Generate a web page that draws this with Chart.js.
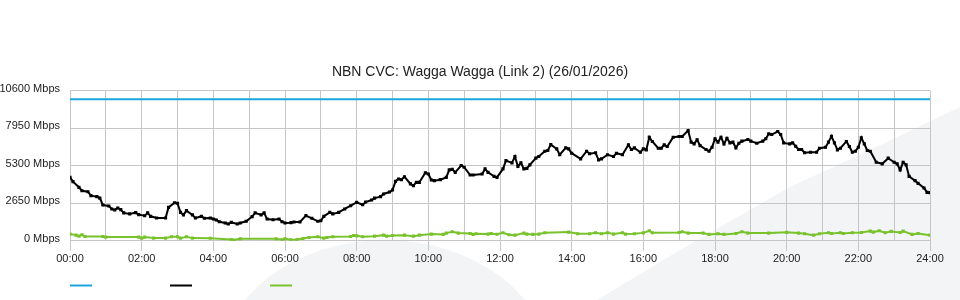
<!DOCTYPE html>
<html><head><meta charset="utf-8">
<script src="https://cdn.jsdelivr.net/npm/chart.js@4.4.1/dist/chart.umd.min.js"></script>
<style>html,body{margin:0;padding:0;background:#fff;}#wrap{width:960px;height:300px;}</style>
</head><body><div id="wrap"><canvas id="c" width="960" height="300"></canvas></div>
<script>
const chartTitle = 'NBN CVC: Wagga Wagga (Link 2) (26/01/2026)';
const yTicks = [0, 2650, 5300, 7950, 10600];
const xTickLabels = ['00:00','02:00','04:00','06:00','08:00','10:00','12:00','14:00','16:00','18:00','20:00','22:00','24:00'];

const capTimes = [0, 1440];
const capValues = [10000, 10000];

const dlTimes = [0,5,15,20,30,35,45,50,55,65,70,75,80,85,90,100,110,115,125,130,135,145,160,165,175,180,185,190,195,205,210,220,225,235,240,245,250,260,265,270,280,285,295,305,310,320,325,330,340,350,355,360,370,375,385,395,405,415,420,425,435,440,450,460,470,480,490,495,505,510,520,525,535,540,545,550,555,560,570,575,580,585,595,600,605,610,620,630,635,640,645,655,660,670,675,690,695,700,710,715,725,730,740,745,750,755,760,765,770,780,785,795,800,805,815,820,830,835,840,855,865,870,880,885,890,900,910,915,925,935,940,945,955,960,965,970,975,985,990,995,1000,1010,1020,1025,1035,1040,1045,1050,1055,1065,1070,1075,1080,1085,1090,1095,1100,1105,1110,1115,1120,1125,1135,1140,1150,1160,1165,1170,1175,1185,1190,1195,1205,1210,1215,1220,1225,1230,1240,1250,1255,1265,1270,1275,1280,1285,1290,1300,1305,1310,1315,1320,1325,1330,1335,1340,1350,1360,1370,1380,1385,1390,1395,1400,1405,1415,1420,1430,1435,1440];
const dlValues = [4480,4180,3780,3540,3470,3190,3120,3020,2530,2460,2250,2180,2320,2200,1970,1900,1990,1850,1770,1970,1730,1610,1610,2360,2690,2650,2010,1830,2130,1830,1610,1730,1590,1610,1540,1470,1350,1260,1190,1300,1190,1260,1380,1710,1970,1830,1970,1540,1490,1540,1350,1260,1280,1330,1330,1780,1590,1380,1420,1730,2010,1900,2010,2250,2480,2720,2550,2740,2880,3020,3120,3310,3450,3590,4200,4370,4320,4530,4020,3900,4130,4130,4810,4720,4300,4250,4320,4480,5010,5050,4840,5320,5200,4650,4650,4720,5080,4840,4550,4480,5080,5670,5510,5960,5250,5510,5080,5120,5370,5840,5960,6330,6380,6800,6500,6080,6570,6500,6190,5790,6330,6150,6220,5720,5790,6080,5960,6190,6080,6780,6450,6570,6260,6500,6430,7320,7020,6540,6540,6780,6660,7320,7370,7370,7790,6970,6850,7140,6730,6450,6330,6610,7210,6970,7320,6850,7250,6920,6970,6570,6890,7040,7160,7040,6890,7040,7210,7560,7510,7720,7510,6920,6850,6920,6680,6450,6450,6220,6260,6260,6540,6610,6970,7390,6920,6430,6540,7020,6660,6260,6330,6610,7280,6850,6380,6330,5550,5440,5840,5550,5440,5010,5550,5370,4550,4250,4060,3730,3420,3400];

const ulTimes = [0,10,15,20,25,55,60,115,120,125,140,160,170,180,185,195,205,235,270,275,285,345,355,360,370,380,390,400,415,425,430,440,470,475,480,490,510,525,530,540,560,575,585,605,625,630,640,650,670,675,680,700,705,715,725,735,745,760,765,775,785,795,835,850,870,880,890,900,910,925,930,945,960,970,975,1020,1025,1035,1060,1070,1085,1095,1115,1125,1135,1170,1200,1220,1230,1245,1255,1270,1275,1290,1295,1310,1325,1340,1345,1355,1365,1375,1390,1395,1410,1420,1440];
const ulValues = [475,400,330,425,305,305,260,260,190,260,190,190,285,285,190,285,190,180,95,50,140,140,70,140,70,95,165,235,285,190,235,285,305,375,350,285,330,400,330,375,400,330,400,475,450,545,640,545,520,450,500,475,520,460,565,425,400,545,475,450,475,565,615,500,500,565,500,565,475,565,475,500,560,710,565,590,640,545,545,450,500,450,520,640,545,545,600,545,500,400,500,565,520,565,520,565,590,685,615,710,565,665,590,685,450,520,400];

const zip = (t, v) => t.map((x, i) => ({x: x, y: v[i]}));
const FONT = 'Liberation Sans, Arial, sans-serif';
const GRID = '#c6c6c6';

const bgPlugin = {
  id: 'bg',
  beforeDraw(chart) {
    const ctx = chart.ctx;
    ctx.save();
    ctx.fillStyle = '#ffffff';
    ctx.fillRect(0, 0, chart.width, chart.height);
    ctx.fillStyle = '#f3f4f6';
    ctx.beginPath();
    ctx.ellipse(385, 370, 166, 130, 0, 0, Math.PI * 2);
    ctx.fill();
    ctx.beginPath();
    ctx.moveTo(597, 300);
    ctx.lineTo(680, 250);
    ctx.lineTo(790, 187);
    ctx.lineTo(870, 150);
    ctx.lineTo(960, 107);
    ctx.lineTo(960, 300);
    ctx.closePath();
    ctx.fill();
    ctx.restore();
  }
};

const legendPlugin = {
  id: 'lineLegend',
  afterDraw(chart) {
    const ctx = chart.ctx;
    ctx.save();
    chart.data.datasets.forEach((ds, i) => {
      const x0 = 70 + i * 100;
      ctx.strokeStyle = ds.borderColor;
      ctx.lineWidth = 2;
      ctx.beginPath();
      ctx.moveTo(x0, 285.5);
      ctx.lineTo(x0 + 22, 285.5);
      ctx.stroke();
    });
    ctx.restore();
  }
};

new Chart(document.getElementById('c'), {
  type: 'line',
  data: {
    datasets: [
      {data: zip(capTimes, capValues), borderColor: '#1ca6e0', borderWidth: 2, pointRadius: 0, tension: 0},
      {data: zip(dlTimes, dlValues), borderColor: '#000000', backgroundColor: '#000000', borderWidth: 2, pointRadius: 0.8, pointStyle: 'rect', tension: 0},
      {data: zip(ulTimes, ulValues), borderColor: '#78c22c', backgroundColor: '#78c22c', borderWidth: 2, pointRadius: 0.8, pointStyle: 'rect', tension: 0}
    ]
  },
  options: {
    responsive: false,
    animation: false,
    devicePixelRatio: 1,
    layout: {padding: {top: 64, left: 0, right: 0, bottom: 32}},
    plugins: {
      legend: {display: false},
      tooltip: {enabled: false},
      title: {display: true, text: chartTitle, color: '#222', font: {family: FONT, size: 14, weight: 'normal'}, padding: {top: 0, bottom: 10}}
    },
    scales: {
      x: {
        type: 'linear', min: 0, max: 1440,
        afterBuildTicks: s => { const t = []; for (let m = 0; m <= 1440; m += 60) t.push({value: m}); s.ticks = t; },
        ticks: {autoSkip: false, maxRotation: 0, padding: 2, color: '#222', font: {family: FONT, size: 11},
          callback: v => (v % 120 === 0 ? xTickLabels[v / 120] : '')},
        grid: {color: GRID, lineWidth: 1, tickLength: 10,
          tickColor: c => (c.tick && c.tick.value % 120 === 0 ? GRID : 'rgba(0,0,0,0)')},
        border: {display: true, color: GRID}
      },
      y: {
        min: 0, max: 10600,
        afterBuildTicks: s => { s.ticks = yTicks.map(v => ({value: v})); },
        afterFit: s => { s.width = 70; },
        ticks: {padding: 10, labelOffset: -2, color: '#222', font: {family: FONT, size: 11}, callback: v => v + ' Mbps'},
        grid: {color: GRID, lineWidth: 1, drawTicks: false},
        border: {display: true, color: GRID}
      },
      yR: {
        position: 'right', min: 0, max: 10600,
        afterFit: s => { s.width = 30; },
        ticks: {display: false},
        grid: {display: false, drawTicks: false},
        border: {display: false}
      }
    }
  },
  plugins: [bgPlugin, legendPlugin]
});
</script></body></html>
